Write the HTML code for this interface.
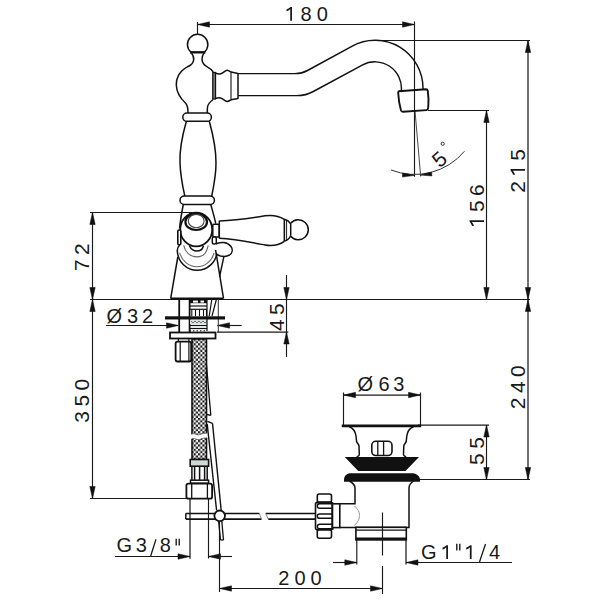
<!DOCTYPE html>
<html><head><meta charset="utf-8"><style>
html,body{margin:0;padding:0;background:#fff;}
svg{display:block;}
text{font-family:"Liberation Sans",sans-serif;fill:#1a1a1a;}
</style></head><body>
<svg width="600" height="600" viewBox="0 0 600 600">
<rect width="600" height="600" fill="#fff"/>
<line x1="197.5" y1="24.5" x2="414.5" y2="24.5" stroke="#1a1a1a" stroke-width="1.15" />
<line x1="197.5" y1="22" x2="197.5" y2="34" stroke="#1a1a1a" stroke-width="1.15" />
<polygon points="197.50,24.50 209.50,21.80 209.50,27.20" fill="#111" stroke="#111" stroke-width="0.5" stroke-linejoin="round"/>
<polygon points="414.50,24.50 402.50,27.20 402.50,21.80" fill="#111" stroke="#111" stroke-width="0.5" stroke-linejoin="round"/>
<line x1="414.5" y1="21.5" x2="414.5" y2="110" stroke="#1a1a1a" stroke-width="1.15" />
<path d="M765,0 L585,0 L585,1190 C495,1105 340,1020 205,975 L205,1150 C390,1235 525,1330 615,1409 L765,1409 Z" fill="#1a1a1a" transform="translate(284.515 20.8) scale(0.009766 -0.009766)"/>
<text x="308.7" y="20.8" font-size="20" letter-spacing="5" text-anchor="middle">&#8199;80</text>
<line x1="371" y1="40.5" x2="530" y2="40.5" stroke="#1a1a1a" stroke-width="1.15" />
<line x1="528" y1="40.5" x2="528" y2="299.5" stroke="#1a1a1a" stroke-width="1.25" />
<polygon points="528.00,40.50 530.70,52.50 525.30,52.50" fill="#111" stroke="#111" stroke-width="0.5" stroke-linejoin="round"/>
<polygon points="528.00,299.50 525.30,287.50 530.70,287.50" fill="#111" stroke="#111" stroke-width="0.5" stroke-linejoin="round"/>
<path d="M765,0 L585,0 L585,1190 C495,1105 340,1020 205,975 L205,1150 C390,1235 525,1330 615,1409 L765,1409 Z" fill="#1a1a1a" transform="rotate(-90 525 168.7) translate(516.960 168.7) scale(0.010254 -0.010254)"/>
<text x="525" y="168.7" font-size="21" letter-spacing="4.4" text-anchor="middle" transform="rotate(-90 525 168.7)">2&#8199;5</text>
<line x1="428" y1="110.5" x2="489" y2="110.5" stroke="#1a1a1a" stroke-width="1.15" />
<line x1="486.5" y1="110.5" x2="486.5" y2="299.5" stroke="#1a1a1a" stroke-width="1.15" />
<polygon points="486.50,110.50 489.20,122.50 483.80,122.50" fill="#111" stroke="#111" stroke-width="0.5" stroke-linejoin="round"/>
<polygon points="486.50,299.50 483.80,287.50 489.20,287.50" fill="#111" stroke="#111" stroke-width="0.5" stroke-linejoin="round"/>
<path d="M765,0 L585,0 L585,1190 C495,1105 340,1020 205,975 L205,1150 C390,1235 525,1330 615,1409 L765,1409 Z" fill="#1a1a1a" transform="rotate(-90 484 204) translate(459.881 204) scale(0.010254 -0.010254)"/>
<text x="484" y="204" font-size="21" letter-spacing="4.4" text-anchor="middle" transform="rotate(-90 484 204)">&#8199;56</text>
<line x1="90" y1="299.5" x2="530" y2="299.5" stroke="#1a1a1a" stroke-width="1.15" />
<line x1="90" y1="212.5" x2="192" y2="212.5" stroke="#1a1a1a" stroke-width="1.15" />
<line x1="92.5" y1="212.5" x2="92.5" y2="299.5" stroke="#1a1a1a" stroke-width="1.15" />
<polygon points="92.50,212.50 95.20,224.50 89.80,224.50" fill="#111" stroke="#111" stroke-width="0.5" stroke-linejoin="round"/>
<polygon points="92.50,299.50 89.80,287.50 95.20,287.50" fill="#111" stroke="#111" stroke-width="0.5" stroke-linejoin="round"/>
<text x="89" y="255" font-size="21" letter-spacing="4.4" text-anchor="middle" transform="rotate(-90 89 255)">72</text>
<line x1="92.5" y1="299.5" x2="92.5" y2="498.5" stroke="#1a1a1a" stroke-width="1.15" />
<polygon points="92.50,299.50 95.20,311.50 89.80,311.50" fill="#111" stroke="#111" stroke-width="0.5" stroke-linejoin="round"/>
<polygon points="92.50,498.50 89.80,486.50 95.20,486.50" fill="#111" stroke="#111" stroke-width="0.5" stroke-linejoin="round"/>
<line x1="90" y1="498.5" x2="187" y2="498.5" stroke="#1a1a1a" stroke-width="1.15" />
<text x="89" y="398.5" font-size="21" letter-spacing="4.4" text-anchor="middle" transform="rotate(-90 89 398.5)">350</text>
<line x1="106" y1="325.5" x2="178" y2="325.5" stroke="#1a1a1a" stroke-width="1.15" />
<polygon points="178.50,325.50 166.50,328.20 166.50,322.80" fill="#111" stroke="#111" stroke-width="0.5" stroke-linejoin="round"/>
<line x1="217.5" y1="325.5" x2="241.7" y2="325.5" stroke="#1a1a1a" stroke-width="1.15" />
<polygon points="217.50,325.50 229.50,322.80 229.50,328.20" fill="#111" stroke="#111" stroke-width="0.5" stroke-linejoin="round"/>
<text x="114.4" y="322.5" font-size="20" letter-spacing="0" text-anchor="middle">&#216;</text>
<text x="132.6" y="322.5" font-size="20" letter-spacing="0" text-anchor="middle">3</text>
<text x="147.6" y="322.5" font-size="20" letter-spacing="0" text-anchor="middle">2</text>
<line x1="286.5" y1="275" x2="286.5" y2="357" stroke="#1a1a1a" stroke-width="1.15" />
<polygon points="286.50,299.50 283.80,287.50 289.20,287.50" fill="#111" stroke="#111" stroke-width="0.5" stroke-linejoin="round"/>
<polygon points="286.50,332.00 289.20,344.00 283.80,344.00" fill="#111" stroke="#111" stroke-width="0.5" stroke-linejoin="round"/>
<line x1="217" y1="332" x2="288.3" y2="332" stroke="#1a1a1a" stroke-width="1.25" />
<text x="284" y="315" font-size="21" letter-spacing="4.4" text-anchor="middle" transform="rotate(-90 284 315)">45</text>
<line x1="343.5" y1="395" x2="420.5" y2="395" stroke="#1a1a1a" stroke-width="1.25" />
<polygon points="343.50,395.00 355.50,392.30 355.50,397.70" fill="#111" stroke="#111" stroke-width="0.5" stroke-linejoin="round"/>
<polygon points="420.50,395.00 408.50,397.70 408.50,392.30" fill="#111" stroke="#111" stroke-width="0.5" stroke-linejoin="round"/>
<line x1="343.5" y1="392.5" x2="343.5" y2="425" stroke="#1a1a1a" stroke-width="1.15" />
<line x1="420.5" y1="392.5" x2="420.5" y2="425" stroke="#1a1a1a" stroke-width="1.15" />
<text x="365.2" y="391" font-size="20" letter-spacing="0" text-anchor="middle">&#216;</text>
<text x="384.1" y="391" font-size="20" letter-spacing="0" text-anchor="middle">6</text>
<text x="398.8" y="391" font-size="20" letter-spacing="0" text-anchor="middle">3</text>
<line x1="418" y1="425" x2="489" y2="425" stroke="#1a1a1a" stroke-width="1.25" />
<line x1="418" y1="479.5" x2="530" y2="479.5" stroke="#1a1a1a" stroke-width="1.15" />
<line x1="528" y1="299.5" x2="528" y2="479.5" stroke="#1a1a1a" stroke-width="1.25" />
<polygon points="528.00,299.50 530.70,311.50 525.30,311.50" fill="#111" stroke="#111" stroke-width="0.5" stroke-linejoin="round"/>
<polygon points="528.00,479.50 525.30,467.50 530.70,467.50" fill="#111" stroke="#111" stroke-width="0.5" stroke-linejoin="round"/>
<text x="525" y="385" font-size="21" letter-spacing="4.4" text-anchor="middle" transform="rotate(-90 525 385)">240</text>
<line x1="486.5" y1="425" x2="486.5" y2="479.5" stroke="#1a1a1a" stroke-width="1.15" />
<polygon points="486.50,425.00 489.20,437.00 483.80,437.00" fill="#111" stroke="#111" stroke-width="0.5" stroke-linejoin="round"/>
<polygon points="486.50,479.50 483.80,467.50 489.20,467.50" fill="#111" stroke="#111" stroke-width="0.5" stroke-linejoin="round"/>
<text x="484" y="448.8" font-size="21" letter-spacing="4.4" text-anchor="middle" transform="rotate(-90 484 448.8)">55</text>
<line x1="190" y1="498.5" x2="190" y2="558.7" stroke="#1a1a1a" stroke-width="1.25" />
<line x1="208.5" y1="498.5" x2="208.5" y2="558.5" stroke="#1a1a1a" stroke-width="1.15" />
<line x1="115" y1="556.5" x2="190" y2="556.5" stroke="#1a1a1a" stroke-width="1.15" />
<polygon points="190.00,556.50 178.00,559.20 178.00,553.80" fill="#111" stroke="#111" stroke-width="0.5" stroke-linejoin="round"/>
<line x1="208.5" y1="556.5" x2="232" y2="556.5" stroke="#1a1a1a" stroke-width="1.15" />
<polygon points="208.50,556.50 220.50,553.80 220.50,559.20" fill="#111" stroke="#111" stroke-width="0.5" stroke-linejoin="round"/>
<text x="124.3" y="552" font-size="20" letter-spacing="0" text-anchor="middle">G</text>
<text x="141.3" y="552" font-size="20" letter-spacing="0" text-anchor="middle">3</text>
<text x="165.3" y="552" font-size="20" letter-spacing="0" text-anchor="middle">8</text>
<line x1="150.7" y1="556" x2="156" y2="539.3" stroke="#1a1a1a" stroke-width="1.3" />
<line x1="176.2" y1="538.8" x2="176.2" y2="545.5" stroke="#1a1a1a" stroke-width="1.4" />
<line x1="179.2" y1="538.8" x2="179.2" y2="545.5" stroke="#1a1a1a" stroke-width="1.4" />
<line x1="219.5" y1="522" x2="219.5" y2="592" stroke="#1a1a1a" stroke-width="1.15" />
<line x1="219.5" y1="588.5" x2="382.5" y2="588.5" stroke="#1a1a1a" stroke-width="1.15" />
<polygon points="219.50,588.50 231.50,585.80 231.50,591.20" fill="#111" stroke="#111" stroke-width="0.5" stroke-linejoin="round"/>
<polygon points="382.50,588.50 370.50,591.20 370.50,585.80" fill="#111" stroke="#111" stroke-width="0.5" stroke-linejoin="round"/>
<text x="302.5" y="585" font-size="20" letter-spacing="5" text-anchor="middle">200</text>
<line x1="356.8" y1="539" x2="356.8" y2="564.5" stroke="#1a1a1a" stroke-width="1.15" />
<line x1="406" y1="539" x2="406" y2="564.5" stroke="#1a1a1a" stroke-width="1.25" />
<line x1="333" y1="562.5" x2="357" y2="562.5" stroke="#1a1a1a" stroke-width="1.15" />
<polygon points="356.80,562.50 344.80,565.20 344.80,559.80" fill="#111" stroke="#111" stroke-width="0.5" stroke-linejoin="round"/>
<line x1="406" y1="562.5" x2="512" y2="562.5" stroke="#1a1a1a" stroke-width="1.15" />
<polygon points="406.00,562.50 418.00,559.80 418.00,565.20" fill="#111" stroke="#111" stroke-width="0.5" stroke-linejoin="round"/>
<text x="428.9" y="559" font-size="20" letter-spacing="0" text-anchor="middle">G</text>
<path d="M765,0 L585,0 L585,1190 C495,1105 340,1020 205,975 L205,1150 C390,1235 525,1330 615,1409 L765,1409 Z" fill="#1a1a1a" transform="translate(440.538 559) scale(0.009766 -0.009766)"/>
<text x="446.1" y="559" font-size="20" letter-spacing="0" text-anchor="middle">&#8199;</text>
<path d="M765,0 L585,0 L585,1190 C495,1105 340,1020 205,975 L205,1150 C390,1235 525,1330 615,1409 L765,1409 Z" fill="#1a1a1a" transform="translate(464.138 559) scale(0.009766 -0.009766)"/>
<text x="469.7" y="559" font-size="20" letter-spacing="0" text-anchor="middle">&#8199;</text>
<text x="494.5" y="559" font-size="20" letter-spacing="0" text-anchor="middle">4</text>
<line x1="479.5" y1="562" x2="485.5" y2="544" stroke="#1a1a1a" stroke-width="1.3" />
<line x1="456.8" y1="543.8" x2="456.8" y2="550.5" stroke="#1a1a1a" stroke-width="1.4" />
<line x1="459.8" y1="543.8" x2="459.8" y2="550.5" stroke="#1a1a1a" stroke-width="1.4" />
<line x1="414.5" y1="110.5" x2="414.5" y2="176.75" stroke="#1a1a1a" stroke-width="1.15" />
<line x1="415" y1="110.8" x2="420.7" y2="176.5" stroke="#333" stroke-width="0.9" />
<path d="M391,170 A65,65 0 0,0 464.5,151.25" fill="none" stroke="#333" stroke-width="1"/>
<polygon points="415.00,175.30 402.46,177.05 402.54,173.05" fill="#111" stroke="#111" stroke-width="0.5" stroke-linejoin="round"/>
<polygon points="420.30,175.10 431.54,171.97 431.94,175.95" fill="#111" stroke="#111" stroke-width="0.5" stroke-linejoin="round"/>
<text x="439.75" y="166.3" font-size="21" text-anchor="middle" transform="rotate(-41 439.75 159.5)">5</text>
<circle cx="442.7" cy="143.75" r="1.6" fill="none" stroke="#222" stroke-width="0.9"/>
<path d="M191,52.3 A10.2,10.2 0 1,1 204.3,52.3" stroke="#111" stroke-width="1.5" fill="none" />
<line x1="190" y1="52.3" x2="205.4" y2="52.3" stroke="#111" stroke-width="2.4" />
<path d="M191.2,52.6 C193,55 194,57.5 193.7,59.7 C193.4,62.5 191,65.5 187.5,66.8 C179,71 176,79 176.3,85 C176.5,92 180,98 185.7,103.2 C187.8,105.5 188,108 188,113" stroke="#111" stroke-width="1.5" fill="none" />
<path d="M204.3,52.6 C202.5,55 201.7,57.5 202,59.7 C202.3,62.5 204,65 206.5,66.3 C209.5,68 212,70 213.2,72" stroke="#111" stroke-width="1.5" fill="none" />
<path d="M213.2,99.5 C210.5,101.5 208,104 207.5,107 C207.3,109 207.3,111 207.3,113" stroke="#111" stroke-width="1.5" fill="none" />
<rect x="182.8" y="113.1" width="28.6" height="8.2" rx="4.1" ry="4.1" fill="none" stroke="#111" stroke-width="1.5"/>
<path d="M186.4,121.3 C181,140 179.5,152 180,163 C180.5,176 182.5,186 184.8,196" stroke="#111" stroke-width="1.5" fill="none" />
<path d="M209.3,121.3 C214.5,140 216,152 216,163 C216,176 213.8,186 211.7,196" stroke="#111" stroke-width="1.5" fill="none" />
<rect x="180" y="196" width="34.4" height="8.5" rx="4.25" ry="4.25" fill="none" stroke="#111" stroke-width="1.5"/>
<rect x="212.8" y="72.5" width="2.7" height="26.5" fill="#888" stroke="#111" stroke-width="1.3"/>
<path d="M215.5,73 C217.5,74 220,74.5 222.5,73 C224.5,71.5 226,70 227.2,70.2 C228.5,70.4 229.5,71.2 231,72" stroke="#111" stroke-width="1.5" fill="none" />
<path d="M215.5,98.5 C217.5,97.6 220,97.4 222.5,98.8 C224.5,100.2 226,101.5 227.2,101.4 C228.5,101.3 229.5,100.6 231,99.8" stroke="#111" stroke-width="1.5" fill="none" />
<line x1="231" y1="71.5" x2="231" y2="100.3" stroke="#333" stroke-width="1.3" />
<line x1="231" y1="72" x2="238" y2="73.5" stroke="#111" stroke-width="1.5" />
<line x1="231" y1="99.8" x2="238" y2="98.5" stroke="#111" stroke-width="1.5" />
<line x1="238" y1="73" x2="238" y2="99" stroke="#111" stroke-width="1.5" />
<path d="M238,73.6 L295,73.6 C300,73.6 303.5,72.7 307.5,70.5 L351.8,46.3 A48,48 0 0,1 423,89.3" stroke="#111" stroke-width="1.45" fill="none" />
<path d="M238,95.6 L297,95.6 C303,95.6 307.3,94.8 313.3,91.5 L362.2,65.1 A26.5,26.5 0 0,1 401.3,91" stroke="#111" stroke-width="1.45" fill="none" />
<path d="M398.6,91.3 L426,89.3 Q427.5,89.3 427.8,91 C428.5,96 428.8,101 428.3,106 L428,108.5 Q427.8,110 426.5,110.1 L403,111.7 Q401.5,111.8 401,110.5 C399.5,105 398.5,99 398.2,93 Q398.2,91.4 398.6,91.3 Z" stroke="#111" stroke-width="1.9" fill="none" />
<path d="M183.3,204.5 C182,211 180.5,219 179.6,228.3" stroke="#111" stroke-width="1.5" fill="none" />
<path d="M210.8,204.5 C212.5,211 214.5,217 215.75,223.7" stroke="#111" stroke-width="1.5" fill="none" />
<path d="M179.8,244.7 C177.5,247 177.2,249 177.3,251 C178,262 186.5,270.3 197,270.3 C207.5,270.3 216.5,262 217,251.7" stroke="#111" stroke-width="1.5" fill="#fff" />
<path d="M179.6,252.8 C182,261 189,266.8 197,266.8 C205,266.8 212,261 214,253" stroke="#666" stroke-width="1.1" fill="none" />
<path d="M183.7,245.3 C185,252 190,256.9 197,256.9 C204,256.9 207,252 208.2,245.3" stroke="#666" stroke-width="1.1" fill="none" />
<ellipse cx="196.2" cy="229.5" rx="16" ry="16.9" fill="#fff" stroke="#111" stroke-width="1.8"/>
<path d="M189.5,245.8 C191,249.5 193.5,251.1 197,251.1 C200.5,251.1 202.5,249.5 203.5,245.8" stroke="#111" stroke-width="1.5" fill="none" />
<ellipse cx="196.2" cy="221.9" rx="10.8" ry="8.1" fill="none" stroke="#111" stroke-width="2.2"/>
<ellipse cx="196.2" cy="221" rx="7.9" ry="6.7" fill="none" stroke="#444" stroke-width="1.1"/>
<rect x="177.8" y="230" width="3" height="14.7" rx="1.2" fill="#fff" stroke="#111" stroke-width="1.6"/>
<rect x="212.8" y="224.2" width="6.4" height="12.9" rx="1" fill="#fff" stroke="#111" stroke-width="1.5"/>
<rect x="212.3" y="237.1" width="4" height="7" rx="1.5" fill="#fff" stroke="#111" stroke-width="1.5"/>
<path d="M219.3,221 C235,220.5 252,218 265,215.8 C272,214.8 279,216 284.3,219.3" stroke="#111" stroke-width="1.5" fill="none" />
<path d="M219.3,238.3 C235,239 252,242.5 265,245 C272,246.2 279,245 284.3,241.3" stroke="#111" stroke-width="1.5" fill="none" />
<line x1="219.3" y1="220.8" x2="219.3" y2="238.5" stroke="#111" stroke-width="1.5" />
<line x1="284.3" y1="219.3" x2="284.3" y2="241.3" stroke="#111" stroke-width="1.5" />
<line x1="286.5" y1="219.8" x2="286.5" y2="240.8" stroke="#333" stroke-width="1.2" />
<path d="M284.3,219.3 C287,220 289,221 290.7,223.8 M284.3,241.3 C287,240.5 289,239.5 290.7,235.8" stroke="#111" stroke-width="1.5" fill="none" />
<line x1="290.7" y1="223.8" x2="290.7" y2="235.8" stroke="#111" stroke-width="1.5" />
<path d="M290.7,223.3 A10,10 0 1,1 290.7,236.3" fill="none" stroke="#111" stroke-width="1.5"/>
<path d="M215.5,244 C218,242.6 221,242.2 224,242.5 C227,243 229.5,244.5 231,246.5 C233,249.5 232.5,253 229.5,255 C227,256.5 223.5,256.6 220.5,256 C218.5,255.5 216.8,254.5 216,253.5" stroke="#111" stroke-width="1.5" fill="#fff" />
<path d="M224,256 L219.5,277" stroke="#111" stroke-width="1.4" fill="none" />
<path d="M177.8,257 L170.7,298.3" stroke="#111" stroke-width="1.5" fill="none" />
<path d="M215.6,250 L223.5,298.3" stroke="#111" stroke-width="1.5" fill="none" />
<line x1="170.5" y1="298.6" x2="223.5" y2="298.6" stroke="#111" stroke-width="2.4" />
<line x1="179.2" y1="299" x2="179.2" y2="332.5" stroke="#111" stroke-width="1.8" />
<line x1="189.6" y1="299" x2="189.6" y2="332.5" stroke="#111" stroke-width="1.8" />
<line x1="218.3" y1="299" x2="218.3" y2="332.5" stroke="#333" stroke-width="1.0" />
<rect x="189.5" y="300" width="17.5" height="3.2" fill="#111"/>
<rect x="193" y="300.6" width="5" height="2" fill="#fff"/>
<rect x="200.5" y="300.6" width="3.5" height="2" fill="#fff"/>
<line x1="189.5" y1="306" x2="207" y2="306" stroke="#111" stroke-width="1.2" />
<line x1="189.5" y1="309.3" x2="207" y2="309.3" stroke="#111" stroke-width="1.2" />
<line x1="191.8" y1="309.5" x2="191.8" y2="316" stroke="#111" stroke-width="1.1" />
<line x1="195.5" y1="309.5" x2="195.5" y2="316" stroke="#111" stroke-width="1.1" />
<line x1="199.5" y1="309.5" x2="199.5" y2="316" stroke="#111" stroke-width="1.1" />
<line x1="203.5" y1="309.5" x2="203.5" y2="316" stroke="#111" stroke-width="1.1" />
<line x1="206.5" y1="309.5" x2="206.5" y2="316" stroke="#111" stroke-width="1.1" />
<rect x="190" y="320" width="17" height="4" fill="#dde3e0" />
<path d="M191,321 l2,2 l2,-2 l2,2 l2,-2 l2,2 l2,-2 l2,2 l2,-2" fill="none" stroke="#555" stroke-width="0.8"/>
<line x1="189.5" y1="325.5" x2="207" y2="325.5" stroke="#111" stroke-width="1.2" />
<line x1="189.5" y1="328.5" x2="207" y2="328.5" stroke="#111" stroke-width="1.2" />
<line x1="189.5" y1="330.8" x2="207" y2="330.8" stroke="#111" stroke-width="1" stroke-dasharray="1.5,2"/>
<line x1="207" y1="300" x2="207" y2="331" stroke="#111" stroke-width="1.2" />
<line x1="211.7" y1="300" x2="209.2" y2="316" stroke="#111" stroke-width="1.2" />
<line x1="216.25" y1="300" x2="212" y2="316" stroke="#111" stroke-width="1.2" />
<rect x="165" y="316.3" width="60" height="3.2" fill="#111"/>
<rect x="170" y="332.5" width="45.5" height="6" fill="#fff" stroke="#111" stroke-width="1.8"/>
<line x1="178.4" y1="338.7" x2="178.4" y2="342" stroke="#111" stroke-width="1.2" />
<line x1="188.9" y1="338.7" x2="188.9" y2="342" stroke="#111" stroke-width="1.2" />
<rect x="175.6" y="341.7" width="15.6" height="19.8" rx="2" fill="#fff" stroke="#111" stroke-width="1.8"/>
<line x1="180.2" y1="341.7" x2="180.2" y2="361.5" stroke="#111" stroke-width="1.2" />
<line x1="188.9" y1="341.7" x2="188.9" y2="361.5" stroke="#111" stroke-width="1.2" />
<defs><pattern id="chk" width="4.4" height="4.4" patternUnits="userSpaceOnUse"><rect width="4.4" height="4.4" fill="#fff"/><rect width="2.2" height="2.2" fill="#222"/><rect x="2.2" y="2.2" width="2.2" height="2.2" fill="#222"/></pattern></defs>
<rect x="192" y="339" width="14.5" height="120.5" fill="url(#chk)" stroke="#111" stroke-width="1.6"/>
<path d="M190.5,434.5 C194,432 197,436 200,434.5 C203,433 205,433.5 208,433 L208,437.8 C205,438.3 203,437.8 200,439.3 C197,440.8 194,436.8 190.5,439.3 Z" fill="#fff"/>
<path d="M191.5,434.5 C194,432 197,436 200,434.5 C203,433 205,433.5 207,433" stroke="#555" stroke-width="0.8" fill="none" />
<path d="M191.5,439.3 C194,436.8 197,440.8 200,439.3 C203,437.8 205,438.3 207,437.8" stroke="#555" stroke-width="0.8" fill="none" />
<rect x="190.2" y="459.5" width="18.4" height="6.7" fill="#cfd8d4" stroke="#111" stroke-width="1.6"/>
<line x1="191.9" y1="466" x2="191.9" y2="480.5" stroke="#111" stroke-width="1.5" />
<line x1="194.6" y1="466" x2="194.6" y2="480.5" stroke="#111" stroke-width="1.5" />
<line x1="199.6" y1="466" x2="199.6" y2="480.5" stroke="#111" stroke-width="1.5" />
<line x1="204.6" y1="466" x2="204.6" y2="480.5" stroke="#111" stroke-width="1.5" />
<line x1="207.2" y1="466" x2="207.2" y2="480.5" stroke="#111" stroke-width="1.5" />
<rect x="190.5" y="480.2" width="18.1" height="3" fill="#fff" stroke="#111" stroke-width="1.5"/>
<rect x="186.4" y="483.6" width="25.7" height="15.1" rx="2" fill="#fff" stroke="#111" stroke-width="1.8"/>
<line x1="191.7" y1="483.6" x2="191.7" y2="498.7" stroke="#111" stroke-width="1.3" />
<line x1="207.4" y1="483.6" x2="207.4" y2="498.7" stroke="#111" stroke-width="1.3" />
<line x1="206.5" y1="365" x2="210.8" y2="415.4" stroke="#111" stroke-width="1.3" />
<line x1="210.8" y1="415.4" x2="207" y2="414.5" stroke="#111" stroke-width="1.3" />
<line x1="207.5" y1="421.3" x2="212.5" y2="423.3" stroke="#111" stroke-width="1.3" />
<line x1="207.2" y1="424" x2="216.6" y2="510.5" stroke="#111" stroke-width="1.4" />
<line x1="212.5" y1="423.3" x2="221.2" y2="510.5" stroke="#111" stroke-width="1.4" />
<line x1="185.8" y1="513.5" x2="259.3" y2="513.5" stroke="#111" stroke-width="1.6" />
<line x1="185.8" y1="519.1" x2="261.5" y2="519.1" stroke="#111" stroke-width="1.6" />
<line x1="259.3" y1="513.5" x2="261.5" y2="519.1" stroke="#777" stroke-width="0.9" />
<line x1="185.8" y1="513.5" x2="185.8" y2="519.1" stroke="#111" stroke-width="1.5" />
<line x1="265.7" y1="513.5" x2="315.5" y2="513.5" stroke="#111" stroke-width="1.6" />
<line x1="268.3" y1="519.1" x2="315.5" y2="519.1" stroke="#111" stroke-width="1.6" />
<line x1="265.7" y1="513.5" x2="268.3" y2="519.1" stroke="#777" stroke-width="0.9" />
<circle cx="219.7" cy="515.8" r="5.3" fill="#fff" stroke="#111" stroke-width="1.8"/>
<line x1="218.6" y1="521" x2="220.5" y2="540" stroke="#111" stroke-width="1.3" />
<line x1="221.8" y1="521" x2="223.5" y2="540" stroke="#111" stroke-width="1.3" />
<line x1="220.5" y1="540" x2="223.5" y2="540" stroke="#111" stroke-width="1.3" />
<rect x="317.3" y="494" width="14.2" height="8.6" rx="2" fill="#fff" stroke="#111" stroke-width="1.6"/>
<rect x="317.3" y="529.6" width="14.2" height="8.6" rx="2" fill="#fff" stroke="#111" stroke-width="1.6"/>
<rect x="315.5" y="502.4" width="17" height="27.4" rx="2" fill="#fff" stroke="#111" stroke-width="1.6"/>
<line x1="317.5" y1="502.6" x2="331.5" y2="502.6" stroke="#111" stroke-width="2.2" />
<path d="M332.5,503.8 L319.8,503.8 Q317.3,503.8 317.3,506.05 Q317.3,508.3 319.8,508.3 L332.5,508.3" stroke="#111" stroke-width="1.4" fill="none" />
<path d="M332.5,514 L319.8,514 Q317.3,514 317.3,516.15 Q317.3,518.3 319.8,518.3 L332.5,518.3" stroke="#111" stroke-width="1.4" fill="none" />
<path d="M332.5,524.2 L319.8,524.2 Q317.3,524.2 317.3,526.40 Q317.3,528.6 319.8,528.6 L332.5,528.6" stroke="#111" stroke-width="1.4" fill="none" />
<line x1="332.5" y1="502.4" x2="332.5" y2="529.8" stroke="#111" stroke-width="2.0" />
<rect x="332.5" y="503.8" width="7.3" height="23.8" fill="#fff" stroke="#111" stroke-width="1.6"/>
<path d="M349.4,481 C353,483 355,485 355,488 L355,503.8 L339.8,503.8 M339.8,527.4 L409,527.4 L409,488 C409,485 410.5,483 413.5,481" stroke="#111" stroke-width="1.5" fill="none" />
<path d="M354.5,506 C358,509 359.5,512 359.5,515.4 C359.5,519 358,522 354.5,525.5" stroke="#999" stroke-width="1.0" fill="none" />
<rect x="355.9" y="527.3" width="50.4" height="12.6" fill="#fff" stroke="#111" stroke-width="1.6"/>
<line x1="355.9" y1="530.2" x2="406.3" y2="530.2" stroke="#111" stroke-width="1.2" />
<line x1="355.9" y1="538.6" x2="406.3" y2="538.6" stroke="#111" stroke-width="2.2" />
<line x1="382.5" y1="512.6" x2="382.5" y2="594" stroke="#1a1a1a" stroke-width="1.15" stroke-dasharray="43,10.5,40"/>
<path d="M344,480 C344,476 346,474 350,473.2 L413,473.2 C417,474 420,476 420,480 L420,481.8 L344,481.8 Z" fill="#111"/>
<path d="M344.75,457 L419,457 L405.5,471 L358.25,471 Z" fill="#111"/>
<line x1="358.5" y1="472.2" x2="405.5" y2="472.2" stroke="#fff" stroke-width="1.4" />
<path d="M349.25,426.8 C353.5,428.5 355.5,432 356,436 L356.6,441.5 C357,443 358.5,443.8 359,446 L359.3,454.75 C359.3,456 357.5,456.3 356.7,457" stroke="#111" stroke-width="1.5" fill="none" />
<path d="M413.5,426.8 C409.3,428.5 407.3,432 406.8,436 L406.2,441.5 C405.8,443 404.3,443.8 403.8,446 L403.5,454.75 C403.5,456 405.3,456.3 406.1,457" stroke="#111" stroke-width="1.5" fill="none" />
<rect x="371.8" y="441.3" width="20.2" height="14.2" rx="4" fill="#fff" stroke="#111" stroke-width="1.6"/>
<line x1="377.8" y1="441.3" x2="377.8" y2="455.5" stroke="#111" stroke-width="1.3" />
<line x1="383.6" y1="441.3" x2="383.6" y2="455.5" stroke="#111" stroke-width="1.3" />
<line x1="341.75" y1="425.8" x2="421.2" y2="425.8" stroke="#111" stroke-width="2.7" />
</svg></body></html>
